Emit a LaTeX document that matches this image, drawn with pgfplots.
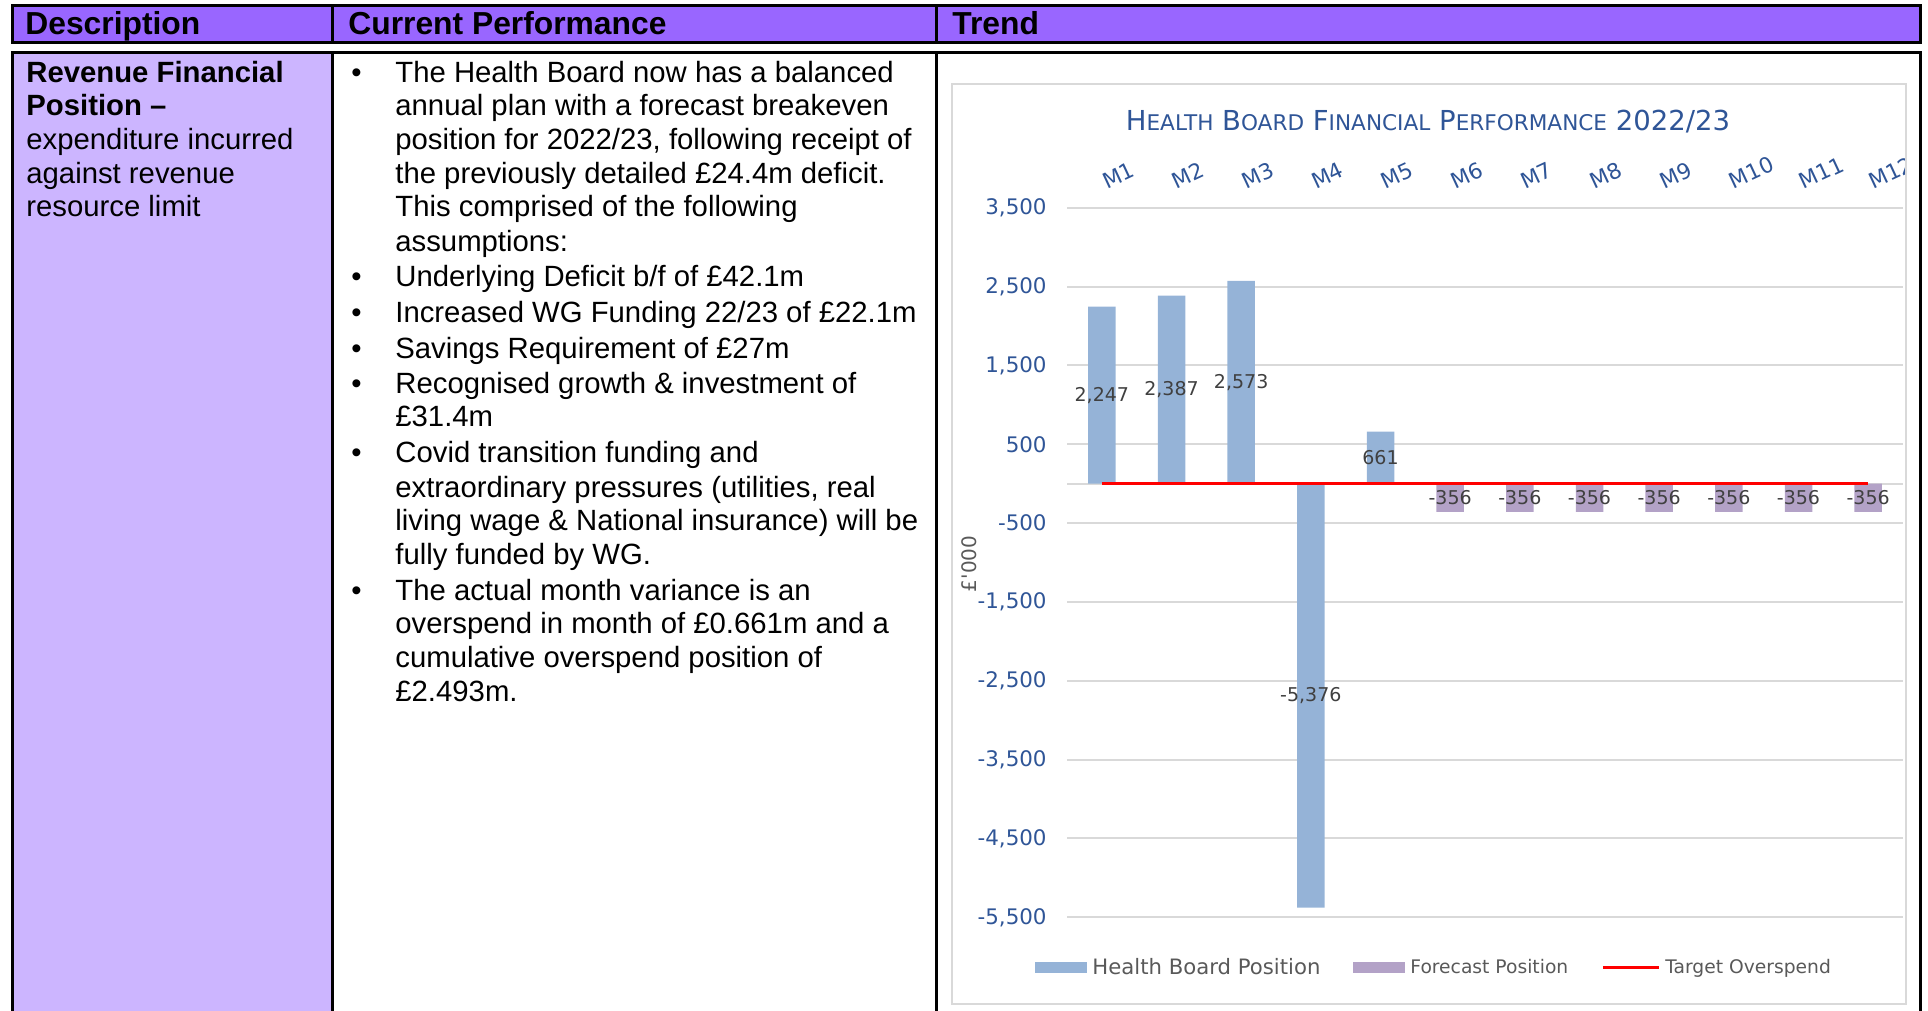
\documentclass[border=0pt]{standalone}
\usepackage{fontspec}
\setmainfont{Liberation Sans}
\newfontfamily\chartfont{DejaVu Sans}
\usepackage{pgfplots}
\pgfplotsset{compat=1.18}
\definecolor{headpurple}{HTML}{9966FF}
\definecolor{descpurple}{HTML}{CCB5FF}
\definecolor{hbblue}{HTML}{95B3D7}
\definecolor{fcpurple}{HTML}{B3A2C7}
\definecolor{gridgray}{HTML}{D9D9D9}
\definecolor{tickblue}{HTML}{2F5597}
\definecolor{labelgray}{HTML}{404040}
\definecolor{legendgray}{HTML}{595959}
\newcommand\hfont{\fontsize{15.9}{18}\selectfont\bfseries}
\newcommand\bfont{\fontsize{14.65}{16.7}\selectfont}
\newcommand\TL[1]{{\fontsize{13.75}{15}\selectfont #1}}
\newcommand\TS[1]{{\fontsize{10.8}{12}\selectfont #1}}
\newcommand\BL[2]{\node[anchor=base west, inner sep=0pt, font=\bfont] at (395,-#1) {#2};}
\newcommand\BU[1]{\node[anchor=base west, inner sep=0pt, font=\bfont] at (351,-#1) {•};}
\newcommand\DL[2]{\node[anchor=base west, inner sep=0pt, font=\bfont] at (26,-#1) {#2};}
\begin{document}
\begin{tikzpicture}[x=0.5pt,y=0.5pt]
\useasboundingbox (0,0) rectangle (1928,-1011);
% header row
\fill[headpurple] (12,-5.5) rectangle (1920.3,-42.5);
\draw[line width=1.5pt] (12,-5.5) rectangle (1920.3,-42.5);
\draw[line width=1.5pt] (332,-5.5) -- (332,-42.5) (936.7,-5.5) -- (936.7,-42.5);
\node[anchor=base west, inner sep=0pt, font=\hfont] at (25,-34.5) {Description};
\node[anchor=base west, inner sep=0pt, font=\hfont] at (348,-34.5) {Current Performance};
\node[anchor=base west, inner sep=0pt, font=\hfont] at (952,-34.5) {Trend};
% body row
\fill[descpurple] (12,-52.5) rectangle (332,-1030);
\draw[line width=1.5pt] (12,-1030) -- (12,-52.5) -- (1920.3,-52.5) -- (1920.3,-1030);
\draw[line width=1.5pt] (332,-52.5) -- (332,-1030) (936.7,-52.5) -- (936.7,-1030);
% description column
\DL{82.5}{\bfseries Revenue Financial}
\DL{115.7}{\bfseries Position –}
\DL{149}{expenditure incurred}
\DL{183.4}{against revenue}
\DL{216.6}{resource limit}
% current performance column
\BU{82.5}
\BL{82.5}{The Health Board now has a balanced}
\BL{115.7}{annual plan with a forecast breakeven}
\BL{149}{position for 2022/23, following receipt of}
\BL{183.4}{the previously detailed £24.4m deficit.}
\BL{216.6}{This comprised of the following}
\BL{251}{assumptions:}
\BU{286.7}
\BL{286.7}{Underlying Deficit b/f of £42.1m}
\BU{322.3}
\BL{322.3}{Increased WG Funding 22/23 of £22.1m}
\BU{358}
\BL{358}{Savings Requirement of £27m}
\BU{393.6}
\BL{393.6}{Recognised growth \& investment of}
\BL{426.8}{£31.4m}
\BU{462.5}
\BL{462.5}{Covid transition funding and}
\BL{497}{extraordinary pressures (utilities, real}
\BL{530}{living wage \& National insurance) will be}
\BL{564.5}{fully funded by WG.}
\BU{600}
\BL{600}{The actual month variance is an}
\BL{633.4}{overspend in month of £0.661m and a}
\BL{667.8}{cumulative overspend position of}
\BL{701}{£2.493m.}
% chart
\node[anchor=center, inner sep=0pt, font=\chartfont\fontsize{13.75}{15}\selectfont, text=tickblue] at (1428,-121.7)
  {\TL{H}\TS{EALTH} \TL{B}\TS{OARD} \TL{F}\TS{INANCIAL} \TL{P}\TS{ERFORMANCE} \TL{2022/23}};
\begin{scope}
\clip (952,-84.5) rectangle (1905.7,-1004);
\begin{axis}[
  at={(533.5pt,-458.65pt)}, anchor=south west,
  scale only axis, width=418pt, height=354.75pt,
  xmin=0.5, xmax=12.5, ymin=-5500, ymax=3500,
  clip=false,
  axis line style={draw=none},
  major tick length=0pt,
  xtick={1,...,12},
  xticklabels={M1,M2,M3,M4,M5,M6,M7,M8,M9,M10,M11,M12},
  xticklabel pos=upper,
  xticklabel style={yshift=8.7pt, xshift=2.5pt, rotate=25, anchor=south west, inner sep=0pt,
    font=\chartfont\fontsize{10.8}{12}\selectfont, text=tickblue},
  ytick={-5500,-4500,...,3500},
  yticklabel={\pgfmathprintnumber[fixed,precision=0,1000 sep={,},assume math mode=true]{\tick}},
  yticklabel style={anchor=east, inner sep=0pt, xshift=-10pt,
    font=\chartfont\fontsize{10.7}{12}\selectfont, text=tickblue},
  ymajorgrids, grid style={draw=gridgray, line width=1pt},
  extra y ticks={0}, extra y tick labels={}, extra y tick style={grid=major},
  ylabel={£\textquotesingle000},
  ylabel style={at={(rel axis cs:-0.117,0.498)}, anchor=center,
    font=\chartfont\fontsize{10}{12}\selectfont, text=legendgray},
  legend columns=3,
  legend cell align=left,
  legend style={at={(0.441,-0.071)}, anchor=center, draw=none, fill=none,
    font=\chartfont\fontsize{10.6}{12}\selectfont, text=legendgray,
    nodes={inner xsep=2.5pt},
    /tikz/every even column/.append style={column sep=14pt}},
]
\addplot[ybar, bar width=0.395, bar shift=0pt, fill=hbblue, draw=none,
  legend image code/.code={\fill[hbblue] (0pt,-2.75pt) rectangle (26pt,2.75pt);},
  point meta=explicit,
  visualization depends on={\thisrow{y} \as \rawy},
  nodes near coords={\pgfmathprintnumber[fixed,precision=0,1000 sep={,},assume math mode=true]{\pgfplotspointmeta}},
  every node near coord/.append style={anchor=center, inner sep=0pt,
    font=\chartfont\fontsize{9.5}{11}\selectfont, text=labelgray,
    shift={(axis direction cs:0,-\rawy/2)}},
] table[x=x, y=y, meta=y] {
x y
1 2247
2 2387
3 2573
4 -5376
5 661
};
\addlegendentry{Health Board Position}
\addplot[ybar, bar width=0.395, bar shift=0pt, fill=fcpurple, draw=none,
  legend image code/.code={\fill[fcpurple] (0pt,-2.75pt) rectangle (26pt,2.75pt);},
  point meta=explicit,
  visualization depends on={\thisrow{y} \as \rawy},
  nodes near coords={\pgfmathprintnumber[fixed,precision=0,1000 sep={,},assume math mode=true]{\pgfplotspointmeta}},
  every node near coord/.append style={anchor=center, inner sep=0pt,
    font=\chartfont\fontsize{9.5}{11}\selectfont, text=labelgray,
    shift={(axis direction cs:0,-\rawy/2)}},
] table[x=x, y=y, meta=y] {
x y
6 -356
7 -356
8 -356
9 -356
10 -356
11 -356
12 -356
};
\addlegendentry{\fontsize{9.35}{11}\selectfont Forecast Position}
\addplot[draw=red, line width=1.5pt, mark=none,
  legend image code/.code={\draw[red, line width=1.5pt] (0pt,0pt) -- (28pt,0pt);},
] coordinates {(1,0) (2,0) (3,0) (4,0) (5,0) (6,0) (7,0) (8,0) (9,0) (10,0) (11,0) (12,0)};
\addlegendentry{\fontsize{9.35}{11}\selectfont Target Overspend}
\end{axis}
\end{scope}
\draw[gridgray, line width=1pt] (952,-84.5) rectangle (1905.7,-1004);
\end{tikzpicture}
\end{document}
